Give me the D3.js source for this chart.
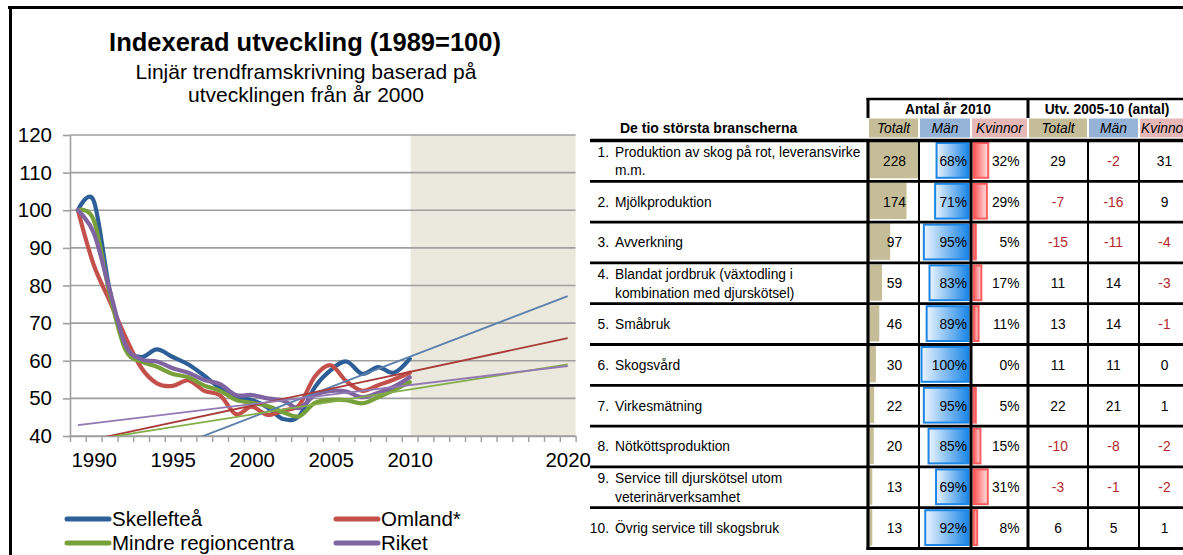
<!DOCTYPE html>
<html>
<head>
<meta charset="utf-8">
<script src="https://cdn.jsdelivr.net/npm/d3@7"></script>
<style>
  body { margin: 0; background: #fff; }
  svg { display: block; font-family: "Liberation Sans", Arial, sans-serif; }
</style>
</head>
<body>
<svg id="chart" width="1183" height="555"></svg>
<script>
// ---- index series, 1989=100 ----
var years = d3.range(1989, 2011);
var skelleftea = [100, 102.5, 79, 64, 61, 63, 61, 59, 56, 52.7, 50.4, 49.6, 47.6, 44.5, 45.3, 53, 57.5, 59.8, 56.5, 58.3, 56.8, 60.5];
var omland     = [100, 85.5, 76, 66.4, 58.2, 54, 53.3, 54.8, 52, 50.8, 45.8, 47.8, 45.6, 46.8, 48.2, 55.8, 58.8, 54.5, 52, 53.5, 55, 56.8];
var mindre     = [100, 97.4, 78, 63, 59.8, 58.4, 56.5, 55.6, 53.4, 52, 49.6, 48.8, 48, 46.3, 45.2, 48.8, 49.6, 49.5, 48.7, 50.3, 52.2, 54.3];
var riket      = [100, 94, 79, 64.3, 60.4, 59.8, 58, 56.8, 54.9, 53.8, 50.9, 50.9, 50, 49.4, 47.4, 50.9, 52, 51.8, 50.3, 51.5, 53.1, 55.6];
var seriesNames = ["Skellefteå", "Omland*", "Mindre regioncentra", "Riket"];

// linear trend lines, values at 1989 and 2020
var trendYears = [1989, 2020];
var trendSkelleftea = [27.2, 77.2];
var trendOmland     = [38.2, 66.0];
var trendMindre     = [38.4, 59.0];
var trendRiket      = [42.9, 58.6];

var yTicks = [40, 50, 60, 70, 80, 90, 100, 110, 120];
var xLabels = [1990, 1995, 2000, 2005, 2010, 2020];
var projectionStart = 2010;

// ---- table: de tio största branscherna ----
var branches = [
  ["Produktion av skog på rot, leveransvirke", "m.m."],
  ["Mjölkproduktion"],
  ["Avverkning"],
  ["Blandat jordbruk (växtodling i", "kombination med djurskötsel)"],
  ["Småbruk"],
  ["Skogsvård"],
  ["Virkesmätning"],
  ["Nötköttsproduktion"],
  ["Service till djurskötsel utom", "veterinärverksamhet"],
  ["Övrig service till skogsbruk"]
];
var total2010 = [228, 174, 97, 59, 46, 30, 22, 20, 13, 13];
var menPct    = [68, 71, 95, 83, 89, 100, 95, 85, 69, 92];
var womenPct  = [32, 29, 5, 17, 11, 0, 5, 15, 31, 8];
var chgTotal  = [29, -7, -15, 11, 13, 11, 22, -10, -3, 6];
var chgMen    = [-2, -16, -11, 14, 14, 11, 21, -8, -1, 5];
var chgWomen  = [31, 9, -4, -3, -1, 0, 1, -2, -2, 1];

var svg = d3.select("#chart");
var FONT = "\"Liberation Sans\", Arial, sans-serif";

// frame
svg.append("line").attr("x1", 8).attr("x2", 1183).attr("y1", 7.5).attr("y2", 7.5)
  .attr("stroke", "#000").attr("stroke-width", 3);
svg.append("line").attr("x1", 10.5).attr("x2", 10.5).attr("y1", 6).attr("y2", 555)
  .attr("stroke", "#000").attr("stroke-width", 3);

// ---- titles ----
svg.append("text").attr("x", 305).attr("y", 51).attr("text-anchor", "middle")
  .attr("font-size", 25.5).attr("font-weight", "bold").text("Indexerad utveckling (1989=100)");
svg.append("text").attr("x", 306).attr("y", 79).attr("text-anchor", "middle")
  .attr("font-size", 21).text("Linjär trendframskrivning baserad på");
svg.append("text").attr("x", 306).attr("y", 102).attr("text-anchor", "middle")
  .attr("font-size", 21).text("utvecklingen från år 2000");

// ---- line chart ----
var plotL = 70, plotR = 575.6, plotT = 135, plotB = 436;
var x = d3.scaleLinear().domain([1988.5, 2020.5]).range([plotL, plotR]);
var y = d3.scaleLinear().domain([40, 120]).range([plotB, plotT]);

svg.append("clipPath").attr("id", "plotClip").append("rect")
  .attr("x", plotL).attr("y", plotT).attr("width", plotR - plotL).attr("height", plotB - plotT);

svg.append("rect").attr("x", x(projectionStart) + 1).attr("y", plotT)
  .attr("width", plotR - x(projectionStart) - 1).attr("height", plotB - plotT)
  .attr("fill", "#EBE8DD");

svg.append("g").selectAll("line").data(yTicks).join("line")
  .attr("x1", plotL).attr("x2", plotR)
  .attr("y1", function(d){ return y(d); }).attr("y2", function(d){ return y(d); })
  .attr("stroke", "#9f9f9f").attr("stroke-width", 1.6);

var yAxis = svg.append("g").attr("transform", "translate(" + plotL + ",0)")
  .call(d3.axisLeft(y).tickValues(yTicks).tickSize(7).tickSizeOuter(0).tickPadding(11));
yAxis.select(".domain").attr("stroke", "#9f9f9f").attr("stroke-width", 1.6);
yAxis.selectAll(".tick line").attr("stroke", "#9f9f9f").attr("stroke-width", 1.6);
yAxis.selectAll("text").attr("font-size", 20.5).attr("font-family", FONT).attr("fill", "#000");

var xAxis = svg.append("g").attr("transform", "translate(0," + plotB + ")")
  .call(d3.axisBottom(x).tickValues(d3.range(1988.5, 2021, 1)).tickSize(6).tickSizeOuter(0).tickFormat(""));
xAxis.select(".domain").attr("stroke", "#9f9f9f").attr("stroke-width", 1.6);
xAxis.selectAll(".tick line").attr("stroke", "#9f9f9f").attr("stroke-width", 1.4);

var xLab = svg.append("g").attr("transform", "translate(0," + plotB + ")")
  .call(d3.axisBottom(x).tickValues(xLabels).tickSize(0).tickPadding(16).tickFormat(d3.format("d")));
xLab.select(".domain").remove();
xLab.selectAll("text").attr("font-size", 20.5).attr("font-family", FONT).attr("fill", "#000");

var series = [
  { name: seriesNames[0], values: skelleftea, trend: trendSkelleftea, color: "#2D5E98", trendColor: "#5B80AA" },
  { name: seriesNames[1], values: omland,     trend: trendOmland,     color: "#C4504C", trendColor: "#A93B38" },
  { name: seriesNames[2], values: mindre,     trend: trendMindre,     color: "#77A03A", trendColor: "#83AE47" },
  { name: seriesNames[3], values: riket,      trend: trendRiket,      color: "#8064A2", trendColor: "#9278B4" }
];

var line = d3.line()
  .x(function(d, i){ return x(years[i]); })
  .y(function(d){ return y(d); })
  .curve(d3.curveCatmullRom.alpha(0));

var plot = svg.append("g").attr("clip-path", "url(#plotClip)");
series.forEach(function(s){
  plot.append("path").datum(s.values).attr("d", line)
    .attr("fill", "none").attr("stroke", s.color).attr("stroke-width", 4.2)
    .attr("stroke-linejoin", "round").attr("stroke-linecap", "round");
});
series.forEach(function(s){
  plot.append("line")
    .attr("x1", x(trendYears[0])).attr("y1", y(s.trend[0]))
    .attr("x2", x(trendYears[1])).attr("y2", y(s.trend[1]))
    .attr("stroke", s.trendColor).attr("stroke-width", 1.8);
});

// legend
var legend = svg.append("g");
series.forEach(function(s, i){
  var lx = i % 2 === 0 ? 67 : 336;
  var ly = i < 2 ? 519 : 543;
  legend.append("line").attr("x1", lx).attr("x2", lx + 42).attr("y1", ly).attr("y2", ly)
    .attr("stroke", s.color).attr("stroke-width", 5).attr("stroke-linecap", "round");
  legend.append("text").attr("x", lx + 45).attr("y", ly).attr("dy", "0.36em")
    .attr("font-size", 20.5).text(s.name);
});

// ---- table ----
var rowTop = 140.5, rowH = 40.8;
var colTot = [868, 919], colMen = [919, 971], colWom = [971, 1028];
var colCT = [1028, 1088], colCM = [1088, 1139], colCW = [1139, 1190];
var TFS = 13.8;
var negColor = "#B3262A";

var defs = svg.append("defs");
var gm = defs.append("linearGradient").attr("id", "gMen");
gm.append("stop").attr("offset", "0%").attr("stop-color", "#EAF4FE");
gm.append("stop").attr("offset", "100%").attr("stop-color", "#1C86E6");
var gw = defs.append("linearGradient").attr("id", "gWom");
gw.append("stop").attr("offset", "0%").attr("stop-color", "#FF4F52");
gw.append("stop").attr("offset", "100%").attr("stop-color", "#FFE3E3");

var tbl = svg.append("g");

// header
tbl.append("text").attr("x", 620).attr("y", 128).attr("dy", "0.35em")
  .attr("font-size", 14).attr("font-weight", "bold").text("De tio största branscherna");
tbl.append("text").attr("x", (colTot[0] + colWom[1]) / 2).attr("y", 109).attr("dy", "0.35em")
  .attr("text-anchor", "middle").attr("font-size", TFS).attr("font-weight", "bold").text("Antal år 2010");
tbl.append("text").attr("x", 1107).attr("y", 109).attr("dy", "0.35em")
  .attr("text-anchor", "middle").attr("font-size", TFS).attr("font-weight", "bold").text("Utv. 2005-10 (antal)");

var subCols = [
  { c: colTot, t: "Totalt", f: "#C4BD97" }, { c: colMen, t: "Män", f: "#95B3D7" }, { c: colWom, t: "Kvinnor", f: "#E6B9B8" },
  { c: colCT, t: "Totalt", f: "#C4BD97" }, { c: colCM, t: "Män", f: "#95B3D7" }, { c: colCW, t: "Kvinnor", f: "#E6B9B8" }
];
subCols.forEach(function(s){
  tbl.append("rect").attr("x", s.c[0] + 1).attr("y", 118.5).attr("width", s.c[1] - s.c[0] - 2).attr("height", 19)
    .attr("fill", s.f);
  tbl.append("text").attr("x", (s.c[0] + s.c[1]) / 2).attr("y", 128).attr("dy", "0.35em")
    .attr("text-anchor", "middle").attr("font-size", TFS).attr("font-style", "italic").text(s.t);
});
tbl.append("line").attr("x1", 866.5).attr("x2", 1183).attr("y1", 99).attr("y2", 99).attr("stroke", "#000").attr("stroke-width", 2.5);
[868, 1028].forEach(function(v){
  tbl.append("line").attr("x1", v).attr("x2", v).attr("y1", 98).attr("y2", 118).attr("stroke", "#000").attr("stroke-width", 3);
});

// bar scales
var totW = d3.scaleLinear().domain([0, d3.max(total2010)]).range([0, 48.5]);
var pctMen = d3.scaleLinear().domain([0, 100]).range([0, 47]);
var pctWom = d3.scaleLinear().domain([0, 100]).range([0, 46]);

branches.forEach(function(lines, i){
  var t = rowTop + i * rowH, mid = t + rowH / 2;
  // bars
  tbl.append("rect").attr("x", colTot[0] + 1.5).attr("y", t + 1.5).attr("width", totW(total2010[i])).attr("height", rowH - 4.5)
    .attr("fill", "#C4BD97");
  if (menPct[i] > 0) {
    var w = pctMen(menPct[i]);
    tbl.append("rect").attr("x", 968.5 - w).attr("y", t + 2.5).attr("width", w).attr("height", rowH - 6)
      .attr("fill", "url(#gMen)").attr("stroke", "#1C86E6").attr("stroke-width", 2);
  }
  if (womenPct[i] > 0) {
    var ww = pctWom(womenPct[i]);
    tbl.append("rect").attr("x", 973.5).attr("y", t + 2.5).attr("width", ww).attr("height", rowH - 6)
      .attr("fill", "url(#gWom)").attr("stroke", "#FF5A5C").attr("stroke-width", 2);
  }
  // label
  tbl.append("text").attr("x", 609).attr("y", lines.length > 1 ? mid - 9 : mid).attr("dy", "0.35em")
    .attr("text-anchor", "end").attr("font-size", TFS).text((i + 1) + ".");
  lines.forEach(function(l, k){
    var ly = lines.length > 1 ? mid - 9 + k * 18.5 : mid;
    tbl.append("text").attr("x", 615).attr("y", ly).attr("dy", "0.35em").attr("font-size", TFS).text(l);
  });
  // numbers
  tbl.append("text").attr("x", (colTot[0] + colTot[1]) / 2 + 1).attr("y", mid).attr("dy", "0.35em")
    .attr("text-anchor", "middle").attr("font-size", TFS).text(total2010[i]);
  tbl.append("text").attr("x", 967).attr("y", mid).attr("dy", "0.35em")
    .attr("text-anchor", "end").attr("font-size", TFS).text(menPct[i] + "%");
  tbl.append("text").attr("x", 1019.5).attr("y", mid).attr("dy", "0.35em")
    .attr("text-anchor", "end").attr("font-size", TFS).text(womenPct[i] + "%");
  [[colCT, chgTotal[i]], [colCM, chgMen[i]], [colCW, chgWomen[i]]].forEach(function(p){
    tbl.append("text").attr("x", (p[0][0] + p[0][1]) / 2).attr("y", mid).attr("dy", "0.35em")
      .attr("text-anchor", "middle").attr("font-size", TFS)
      .attr("fill", p[1] < 0 ? negColor : "#000").text(p[1]);
  });
});

// grid lines of table
var nRows = branches.length;
d3.range(nRows).forEach(function(i){
  tbl.append("line").attr("x1", 590).attr("x2", 1183).attr("y1", rowTop + i * rowH).attr("y2", rowTop + i * rowH)
    .attr("stroke", "#000").attr("stroke-width", i === 0 ? 3.5 : 2.8);
});
tbl.append("line").attr("x1", 866.5).attr("x2", 1183).attr("y1", rowTop + nRows * rowH).attr("y2", rowTop + nRows * rowH)
  .attr("stroke", "#000").attr("stroke-width", 2.8);
[[868, 3.2], [919, 2], [971, 3], [1028, 3], [1088, 2], [1139, 2]].forEach(function(v){
  tbl.append("line").attr("x1", v[0]).attr("x2", v[0]).attr("y1", rowTop).attr("y2", rowTop + nRows * rowH + 1.4)
    .attr("stroke", "#000").attr("stroke-width", v[1]);
});
</script>
</body>
</html>
